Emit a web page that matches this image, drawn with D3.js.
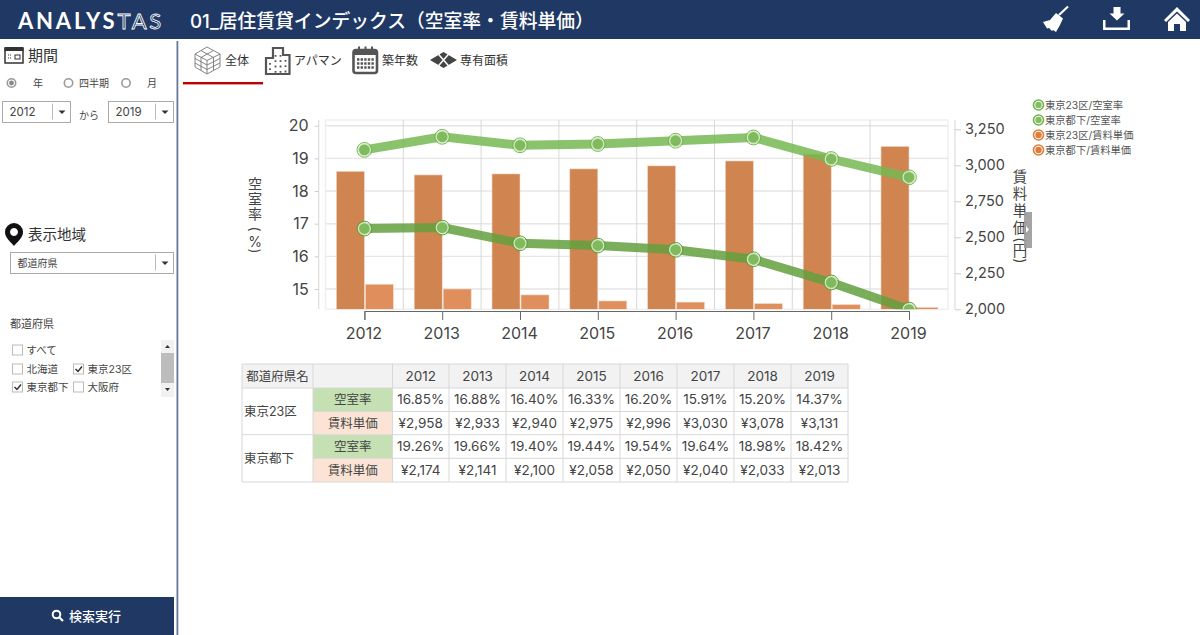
<!DOCTYPE html>
<html lang="ja">
<head>
<meta charset="utf-8">
<script src="https://cdn.jsdelivr.net/npm/d3@7"></script>
<style>
  html, body { margin: 0; padding: 0; background: #fff; overflow: hidden; }
  svg { display: block; }
  text { font-family: Inter, "Noto Sans CJK JP", "Noto Sans", sans-serif; fill: #444; }
</style>
</head>
<body>
<svg id="page" width="1200" height="635"></svg>
<script>
const years = [2012, 2013, 2014, 2015, 2016, 2017, 2018, 2019];
const vacancy23 = [16.85, 16.88, 16.40, 16.33, 16.20, 15.91, 15.20, 14.37];
const vacancySuburb = [19.26, 19.66, 19.40, 19.44, 19.54, 19.64, 18.98, 18.42];
const rent23 = [2958, 2933, 2940, 2975, 2996, 3030, 3078, 3131];
const rentSuburb = [2174, 2141, 2100, 2058, 2050, 2040, 2033, 2013];
const vacancyTicks = [15, 16, 17, 18, 19, 20];
const rentTicks = [2000, 2250, 2500, 2750, 3000, 3250];
const legendLabels = ["東京23区/空室率", "東京都下/空室率", "東京23区/賃料単価", "東京都下/賃料単価"];
const tabLabels = ["全体", "アパマン", "築年数", "専有面積"];

const NAVY = "#1f3864", GREEN = "#76b852", GREEN_DARK = "#63a03e", ORANGE = "#d08450", ORANGE2 = "#df8e5c";
const svg = d3.select("#page");

function label(g, x, y, str, size, opts = {}) {
    return g.append("text").attr("x", x).attr("y", y).attr("font-size", size)
        .attr("text-anchor", opts.anchor || "start")
        .style("fill", opts.fill || "#444")
        .style("font-weight", opts.weight || 400)
        .text(str);
}

// ---- header
function drawHeader() {
    const g = svg.append("g");
    g.append("rect").attr("width", 1200).attr("height", 39).attr("fill", NAVY);
    const logo = g.append("text").attr("x", 18).attr("y", 28.5).attr("font-size", 22)
        .style("font-family", "Lato, sans-serif").style("letter-spacing", "2.8px");
    logo.append("tspan").text("ANALYS").style("fill", "#fff").style("font-weight", 700);
    logo.append("tspan").text("TAS").style("fill", "none").style("stroke", "#fff").style("stroke-width", 0.8);
    label(g, 190, 28, "01_居住賃貸インデックス（空室率・賃料単価）", 18.8, {fill: "#fff", weight: 500});

    // broom
    g.append("line").attr("x1", 1068).attr("y1", 6.5).attr("x2", 1059).attr("y2", 15)
        .attr("stroke", "#fff").attr("stroke-width", 2.2);
    g.append("path").attr("fill", "#fff")
        .attr("d", "M1056 13L1063 18.500L1060 25L1056 32L1053 30L1052 31L1049 28L1047 28.500L1043 22L1050 20Z");
    // download
    g.append("path").attr("fill", "#fff")
        .attr("d", "M1113.500 7h7v6.500h4l-7.500 7l-7.500 -7h4z M1103 20h2.500v7.500h22v-7.500h2.500v10h-27z");
    // home
    g.append("path").attr("fill", "#fff")
        .attr("d", "M1177 7L1190 20L1188 22L1177 11.500L1166 22L1164 20Z M1168 22L1177 13.500L1186 22V31H1180V24H1174V31H1168Z");
}

// ---- sidebar controls
function dropdown(g, x, y, w, h, str, size) {
    g.append("rect").attr("x", x).attr("y", y).attr("width", w).attr("height", h)
        .attr("fill", "#fff").attr("stroke", "#aaa");
    g.append("line").attr("x1", x + w - 18).attr("x2", x + w - 18).attr("y1", y + 2).attr("y2", y + h - 3).attr("stroke", "#bbb");
    g.append("path").attr("d", `M${x + w - 12} ${y + h / 2 - 1.500}h7l-3.500 3.500z`).attr("fill", "#333");
    label(g, x + 7, y + h / 2 + 4, str, size, {fill: "#444"});
}

function radio(g, x, y, on) {
    g.append("circle").attr("cx", x).attr("cy", y).attr("r", 4.200).attr("fill", "#fff").attr("stroke", "#999").attr("stroke-width", 1.600);
    if (on) g.append("circle").attr("cx", x).attr("cy", y).attr("r", 2.400).attr("fill", "#888");
}

function checkbox(g, x, y, str, on) {
    g.append("rect").attr("x", x).attr("y", y - 5).attr("width", 10).attr("height", 10)
        .attr("fill", "#fff").attr("stroke", "#bbb");
    if (on) g.append("path").attr("d", `M${x + 2} ${y}l2.500 2.500l4 -5`).attr("fill", "none").attr("stroke", "#333").attr("stroke-width", 1.500);
    label(g, x + 14, y + 4, str, 10.5);
}

function drawSidebar() {
    const g = svg.append("g");
    g.append("rect").attr("x", 176.500).attr("y", 41).attr("width", 1.800).attr("height", 594).attr("fill", "#66789c");

    // calendar icon
    g.append("rect").attr("x", 5).attr("y", 48.500).attr("width", 18).attr("height", 14.500).attr("fill", "none").attr("stroke", "#333").attr("stroke-width", 1.500);
    g.append("rect").attr("x", 4.500).attr("y", 47).attr("width", 19).attr("height", 4).attr("fill", "#333");
    g.append("rect").attr("x", 15).attr("y", 55).attr("width", 5).attr("height", 4).attr("fill", "none").attr("stroke", "#333");
    g.append("path").attr("d", "M8 55h4M8 58h4").attr("stroke", "#333").attr("stroke-dasharray", "1 1");
    label(g, 28, 61, "期間", 15, {fill: "#333"});

    radio(g, 11.500, 83, true);
    label(g, 33, 87, "年", 10);
    radio(g, 68.500, 83, false);
    label(g, 79, 87, "四半期", 10);
    radio(g, 126, 83, false);
    label(g, 147, 87, "月", 10);

    dropdown(g, 2.500, 101.500, 68, 21, "2012", 11.5);
    label(g, 79, 119, "から", 10);
    dropdown(g, 108.500, 101.500, 65, 21, "2019", 11.5);

    // map pin
    g.append("path").attr("fill-rule", "evenodd").attr("fill", "#111")
        .attr("d", "M14 223a9 9 0 0 1 9 9c0 6 -6 10 -9 14c-3 -4 -9 -8 -9 -14a9 9 0 0 1 9 -9z M14 228a4 4 0 1 0 .001 0z");
    label(g, 28, 240, "表示地域", 14.5, {fill: "#333"});
    dropdown(g, 10.500, 252.500, 163, 21, "都道府県", 10);

    label(g, 10, 328, "都道府県", 11);
    checkbox(g, 12.500, 350, "すべて", false);
    checkbox(g, 12.500, 369, "北海道", false);
    checkbox(g, 73.500, 369, "東京23区", true);
    checkbox(g, 12.500, 387, "東京都下", true);
    checkbox(g, 73.500, 387, "大阪府", false);

    // list scrollbar
    g.append("rect").attr("x", 161).attr("y", 340).attr("width", 13).attr("height", 57).attr("fill", "#f1f1f1");
    g.append("rect").attr("x", 161).attr("y", 353).attr("width", 13).attr("height", 30).attr("fill", "#bdbdbd");
    g.append("path").attr("d", "M165 348l2.500 -3l2.500 3z M165 388l2.500 3l2.500 -3z").attr("fill", "#333");

    // search button
    g.append("rect").attr("x", 0).attr("y", 597).attr("width", 174).attr("height", 38).attr("fill", NAVY);
    g.append("circle").attr("cx", 56.500).attr("cy", 614.500).attr("r", 3.800).attr("fill", "none").attr("stroke", "#fff").attr("stroke-width", 2);
    g.append("line").attr("x1", 59.500).attr("y1", 617.500).attr("x2", 63).attr("y2", 621).attr("stroke", "#fff").attr("stroke-width", 2.200);
    label(g, 69, 621, "検索実行", 13, {fill: "#fff", weight: 500});
}

function drawTabs() {
    const g = svg.append("g");
    const dark = "#555";
    // cube
    const cube = g.append("g").attr("fill", "none").attr("stroke", "#777").attr("stroke-width", 0.900);
    cube.append("path").attr("d", "M207 47L220 54V67L207 74L195 67V54Z M195 54L207 60.500L220 54 M207 60.500V74 M195 58.500L207 65L220 58.500 M195 63L207 69.500L220 63 M201 50.500L213.500 57.500V70.500 M213.500 50.500L201 57.500V70.500");
    // building
    const bld = g.append("g");
    bld.append("path").attr("fill", "none").attr("stroke", dark).attr("stroke-width", 2.200)
        .attr("d", "M266 74V58H273V48H283V55H289.500V74Z");
    bld.append("path").attr("stroke", dark).attr("stroke-width", 1.800).attr("stroke-dasharray", "1.800 3.500")
        .attr("d", "M270 63V73M275.500 55V73M280.500 55V73M285.500 60V73");
    // calendar
    const cal = g.append("g");
    cal.append("rect").attr("x", 353.500).attr("y", 50).attr("width", 23.500).attr("height", 23).attr("rx", 2.500).attr("fill", "none").attr("stroke", dark).attr("stroke-width", 2.600);
    cal.append("rect").attr("x", 353.500).attr("y", 50).attr("width", 23.500).attr("height", 5).attr("fill", dark);
    cal.append("path").attr("d", "M359 46.500v6M365.500 46.500v6M372 46.500v6").attr("stroke", dark).attr("stroke-width", 2);
    cal.append("path").attr("d", "M357 59.500h17M357 63.500h17M357 67.500h17").attr("stroke", dark).attr("stroke-width", 2.400).attr("stroke-dasharray", "2.400 1.200");
    // four diamonds
    g.append("path").attr("fill", "#444").attr("d", "M443.500 52L457 60L443.500 68L430 60Z");
    g.append("path").attr("d", "M436.500 52L450.500 68M450.500 52L436.500 68").attr("stroke", "#fff").attr("stroke-width", 1.500);

    [[225, 0], [294, 1], [382, 2], [460, 3]].forEach(([x, i]) => label(g, x, 65, tabLabels[i], 12, {fill: "#333"}));
    g.append("rect").attr("x", 183).attr("y", 82).attr("width", 80).attr("height", 2.400).attr("fill", "#c00000");
}

// ---- chart
function drawChart() {
    const plot = {left: 325.5, right: 948, top: 120, bottom: 309.3};
    const x = d3.scalePoint().domain(years).range([364.4, 909]);
    const step = x.step();
    const yLeft = d3.scaleLinear().domain([15, 20]).range([289, 125.7]);
    const yRight = d3.scaleLinear().domain([2000, 3250]).range([309.3, 129.3]);
    const barW = 28;
    const g = svg.append("g");

    g.append("clipPath").attr("id", "plot-clip").append("rect")
        .attr("x", plot.left).attr("y", plot.top)
        .attr("width", plot.right - plot.left).attr("height", plot.bottom - plot.top);

    // grid
    g.append("rect").attr("x", plot.left).attr("y", plot.top)
        .attr("width", plot.right - plot.left).attr("height", plot.bottom - plot.top)
        .attr("fill", "none").attr("stroke", "#efefef").attr("stroke-width", 1.500);
    g.selectAll(".h-grid").data(vacancyTicks).join("line").attr("class", "h-grid")
        .attr("x1", plot.left).attr("x2", plot.right)
        .attr("y1", d => yLeft(d)).attr("y2", d => yLeft(d))
        .attr("stroke", "#e6e6e6").attr("stroke-width", 1.400);
    g.selectAll(".v-grid").data(years.slice(0, -1)).join("line").attr("class", "v-grid")
        .attr("x1", d => x(d) + step / 2).attr("x2", d => x(d) + step / 2)
        .attr("y1", plot.top).attr("y2", plot.bottom)
        .attr("stroke", "#d8d8d8").attr("stroke-width", 1);

    // bars
    const bars = g.append("g").attr("clip-path", "url(#plot-clip)");
    bars.selectAll(".bar23").data(years).join("rect").attr("class", "bar23")
        .attr("x", d => x(d) - barW).attr("width", barW)
        .attr("y", (d, i) => yRight(rent23[i])).attr("height", (d, i) => plot.bottom - yRight(rent23[i]))
        .attr("fill", ORANGE).attr("stroke", "#f0d8c8").attr("stroke-width", 0.600);
    bars.selectAll(".barSuburb").data(years).join("rect").attr("class", "barSuburb")
        .attr("x", d => x(d) + 1).attr("width", barW)
        .attr("y", (d, i) => yRight(rentSuburb[i])).attr("height", (d, i) => plot.bottom - yRight(rentSuburb[i]))
        .attr("fill", ORANGE2).attr("stroke", "#f3dccb").attr("stroke-width", 0.600);

    // lines
    const line = d3.line().x((d, i) => x(years[i])).y(d => yLeft(d));
    const lines = g.append("g").attr("clip-path", "url(#plot-clip)");
    [[vacancySuburb, GREEN], [vacancy23, GREEN_DARK]].forEach(([series, colour]) => {
        lines.append("path").datum(series).attr("d", line)
            .attr("fill", "none").attr("stroke", colour).attr("stroke-width", 9).attr("stroke-opacity", 0.85);
        lines.selectAll(null).data(series).join("circle")
            .attr("cx", (d, i) => x(years[i])).attr("cy", d => yLeft(d)).attr("r", 6)
            .attr("fill", "#7fba5c").attr("stroke", "#d4e8c6").attr("stroke-width", 1.300);
        lines.selectAll(null).data(series).join("circle")
            .attr("cx", (d, i) => x(years[i])).attr("cy", d => yLeft(d)).attr("r", 7.400)
            .attr("fill", "none").attr("stroke", colour).attr("stroke-width", 1);
    });

    // axes
    const leftAxis = g.append("g").attr("transform", "translate(318.7,0)")
        .call(d3.axisLeft(yLeft).tickValues(vacancyTicks).tickFormat(d3.format("d")).tickSize(4).tickPadding(6));
    leftAxis.select(".domain").attr("d", `M0 ${plot.top}V${plot.bottom}`);
    const rightAxis = g.append("g").attr("transform", "translate(955,0)")
        .call(d3.axisRight(yRight).tickValues(rentTicks).tickFormat(d3.format(",")).tickSize(6).tickPadding(4));
    rightAxis.select(".domain").attr("d", `M0 ${plot.top}V${plot.bottom}`);
    [leftAxis, rightAxis].forEach(a => {
        a.attr("font-family", null).attr("font-size", null);
        a.select(".domain").attr("stroke", "#ddd").attr("stroke-width", 1.200);
        a.selectAll(".tick line").attr("stroke", "#ccc");
        a.selectAll(".tick text").attr("font-size", 16).style("fill", "#444");
    });
    rightAxis.selectAll(".tick text").attr("font-size", 14.5);
    const bottomAxis = g.append("g").attr("transform", "translate(0,311)")
        .call(d3.axisBottom(x).tickSizeOuter(0).tickSize(9).tickPadding(8).tickFormat(d3.format("d")));
    bottomAxis.attr("font-family", null).attr("font-size", null);
    bottomAxis.select(".domain").attr("stroke", "#666").attr("stroke-width", 1);
    bottomAxis.selectAll(".tick line").attr("stroke", "#666");
    bottomAxis.selectAll(".tick text").attr("font-size", 16).style("fill", "#444").attr("x", -1);

    // axis titles, one glyph at a time: parens lie on their side, the rest stay upright
    const vTitle = (xPos, size, chars, centers) => {
        g.selectAll(null).data(chars).join("text")
            .attr("font-size", size).attr("text-anchor", "middle").attr("dominant-baseline", "central")
            .attr("transform", (d, i) => `translate(${xPos},${centers[i]})` + ("()".includes(d) ? " rotate(90)" : ""))
            .style("fill", "#444").text(d => d);
    };
    vTitle(255, 14, [..."空室率(%)"], [183, 198, 213, 229, 241, 251]);
    vTitle(1020, 14.5, [..."賃料単価(円)"], [176, 193, 210, 227, 240, 250, 261]);

    // collapse handle
    g.append("rect").attr("x", 1024).attr("y", 212).attr("width", 8).attr("height", 36).attr("fill", "#9a9a9a").attr("fill-opacity", 0.9);
    g.append("path").attr("d", "M1026 226l3 3.500l-3 3.500z").attr("fill", "#fff");

    // legend
    const legend = g.selectAll(".legend").data(legendLabels).join("g").attr("class", "legend")
        .attr("transform", (d, i) => `translate(1038.500,${105 + i * 15})`);
    legend.append("circle").attr("r", 5).attr("fill", "#fff")
        .attr("stroke", (d, i) => i < 2 ? "#6fb24a" : "#e07b39").attr("stroke-width", 1.600);
    legend.append("circle").attr("r", 3.200).attr("fill", (d, i) => i < 2 ? "#84bd62" : "#e07b39");
    legend.append("text").attr("x", 6.500).attr("y", 3.800).attr("font-size", 10.3).style("fill", "#555").text(d => d);
}

// ---- table
function drawTable() {
    const colX = [242, 313, 392.5, 449, 506, 563, 620, 677, 734, 791, 848];
    const rowY = [364, 388, 411.5, 434.7, 458.3, 482];
    const line = "#d8d8d8";
    const g = svg.append("g");
    const pct = d => d3.format(".2f")(d) + "%";
    const yen = d => "¥" + d3.format(",")(d);
    const rows = [
        {area: "東京23区", metric: "空室率", values: vacancy23, fmt: pct, fill: "#c5e0b3"},
        {area: null, metric: "賃料単価", values: rent23, fmt: yen, fill: "#fbe4d5"},
        {area: "東京都下", metric: "空室率", values: vacancySuburb, fmt: pct, fill: "#c5e0b3"},
        {area: null, metric: "賃料単価", values: rentSuburb, fmt: yen, fill: "#fbe4d5"}
    ];

    g.append("rect").attr("x", colX[0]).attr("y", rowY[0]).attr("width", colX[10] - colX[0]).attr("height", rowY[1] - rowY[0]).attr("fill", "#f2f2f2");
    rows.forEach((r, i) => {
        g.append("rect").attr("x", colX[1]).attr("y", rowY[i + 1]).attr("width", colX[2] - colX[1])
            .attr("height", rowY[i + 2] - rowY[i + 1]).attr("fill", r.fill);
    });

    // cell borders
    rowY.forEach((y, i) => {
        const startX = (i === 2 || i === 4) ? colX[1] : colX[0];
        g.append("line").attr("x1", startX).attr("x2", colX[10]).attr("y1", y).attr("y2", y).attr("stroke", line);
    });
    colX.forEach(cx => {
        g.append("line").attr("x1", cx).attr("x2", cx).attr("y1", rowY[0]).attr("y2", rowY[5]).attr("stroke", line);
    });

    label(g, 277.5, 380.5, "都道府県名", 12.5, {anchor: "middle", fill: "#444"});
    years.forEach((yr, i) => label(g, (colX[i + 2] + colX[i + 3]) / 2, 381, yr, 13.5, {anchor: "middle"}));
    rows.forEach((r, i) => {
        const base = (rowY[i + 1] + rowY[i + 2]) / 2 + 4.500;
        if (r.area) label(g, 244, rowY[i + 2] + 4.500, r.area, 12.5);
        label(g, (colX[1] + colX[2]) / 2, base, r.metric, 12.5, {anchor: "middle"});
        r.values.forEach((v, j) => label(g, (colX[j + 2] + colX[j + 3]) / 2, base, r.fmt(v), 13.5, {anchor: "middle"}));
    });
}

drawHeader();
drawSidebar();
drawTabs();
drawChart();
drawTable();
</script>
</body>
</html>
